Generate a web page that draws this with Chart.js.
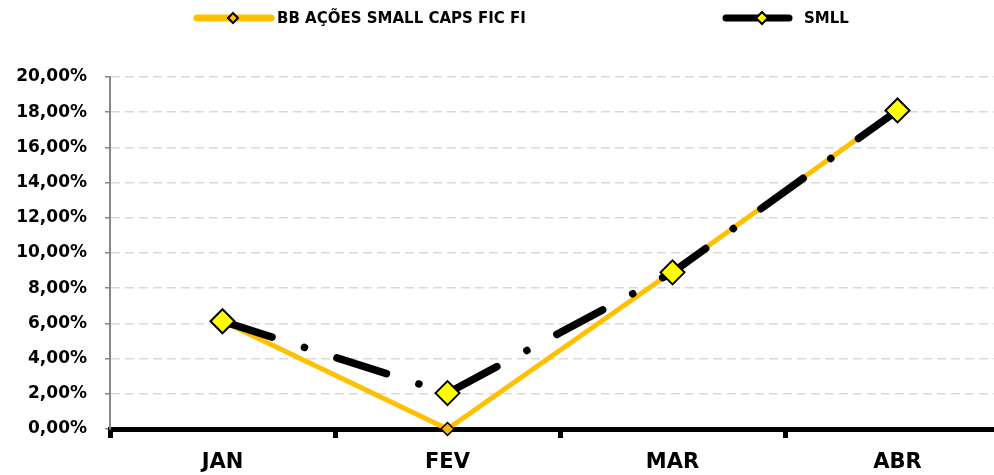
<!DOCTYPE html>
<html lang="pt">
<head>
  <meta charset="UTF-8" />
  <title>BB Ações Small Caps x SMLL</title>
  <script src="https://cdn.jsdelivr.net/npm/chart.js"></script>
  <style>
    html, body { margin: 0; padding: 0; background: #fff; overflow: hidden; }
    .wrap { width: 1010px; height: 475px; }
    #chart { width: 1010px; height: 475px; display: block; }
  </style>
</head>
<body>
  <div class="wrap">
    <canvas id="chart" width="1010" height="475"></canvas>
  </div>

  <script>
    const months = ['JAN', 'FEV', 'MAR', 'ABR'];
    const bbSmallCaps = [6.12, 0.0, 8.95, 18.13];
    const smll = [6.12, 2.04, 8.9, 18.1];
    const seriesNames = ['BB AÇÕES SMALL CAPS FIC FI', 'SMLL'];

    const FONT = "'DejaVu Sans', sans-serif";
    const GOLD = '#FFC000';

    // legend drawn as line + marker sample, like the spreadsheet one
    const lineLegend = {
      id: 'lineLegend',
      afterDraw(chart) {
        const ctx = chart.ctx;
        const items = [
          { x1: 197, x2: 271, mx: 233, color: GOLD, fill: GOLD, r: 5, tx: 277, text: seriesNames[0] },
          { x1: 726, x2: 789, mx: 762, color: '#000', fill: '#FFFF00', r: 6, tx: 804, text: seriesNames[1] }
        ];
        const y = 18;
        ctx.save();
        items.forEach(it => {
          ctx.beginPath();
          ctx.lineCap = 'round';
          ctx.lineWidth = 7;
          ctx.strokeStyle = it.color;
          ctx.moveTo(it.x1, y);
          ctx.lineTo(it.x2, y);
          ctx.stroke();

          ctx.beginPath();
          ctx.moveTo(it.mx, y - it.r);
          ctx.lineTo(it.mx + it.r, y);
          ctx.lineTo(it.mx, y + it.r);
          ctx.lineTo(it.mx - it.r, y);
          ctx.closePath();
          ctx.fillStyle = it.fill;
          ctx.fill();
          ctx.lineWidth = 2;
          ctx.strokeStyle = '#000';
          ctx.stroke();

          ctx.fillStyle = '#000';
          ctx.font = 'bold 15px ' + FONT;
          ctx.textAlign = 'left';
          ctx.textBaseline = 'middle';
          ctx.fillText(it.text, it.tx, y + 1);
        });
        ctx.restore();
      }
    };

    new Chart(document.getElementById('chart'), {
      type: 'line',
      data: {
        labels: months,
        datasets: [
          {
            label: seriesNames[0],
            data: bbSmallCaps,
            borderColor: GOLD,
            borderWidth: 5,
            borderCapStyle: 'round',
            borderJoinStyle: 'round',
            pointStyle: 'rectRot',
            pointRadius: 6.5,
            pointBackgroundColor: '#F2B600',
            pointBorderColor: '#000',
            pointBorderWidth: 1.5,
            tension: 0,
            clip: false,
            order: 1
          },
          {
            label: seriesNames[1],
            data: smll,
            borderColor: '#000',
            borderWidth: 7.5,
            borderDash: [52, 34, 0.1, 34],
            borderCapStyle: 'round',
            borderJoinStyle: 'round',
            pointStyle: 'rectRot',
            pointRadius: 12,
            pointBackgroundColor: '#FFFF00',
            pointBorderColor: '#000',
            pointBorderWidth: 2,
            tension: 0,
            clip: false,
            order: 0
          }
        ]
      },
      options: {
        responsive: false,
        animation: false,
        layout: {
          autoPadding: false,
          padding: { top: 77, right: 0, bottom: 0, left: 0 }
        },
        plugins: {
          legend: { display: false },
          tooltip: { enabled: false }
        },
        scales: {
          x: {
            offset: true,
            afterFit(scale) { scale.height = 46; },
            grid: {
              offset: true,
              drawOnChartArea: false,
              drawTicks: true,
              tickLength: 9,
              tickColor: '#000',
              tickWidth: 5
            },
            border: { color: '#000', width: 5 },
            ticks: {
              color: '#000',
              padding: 12,
              font: { family: FONT, size: 21, weight: 'bold' }
            }
          },
          y: {
            min: 0,
            max: 20,
            afterFit(scale) { scale.width = 110; },
            grid: {
              color: '#D9D9D9',
              lineWidth: 1.5,
              tickLength: 5,
              tickColor: '#868686',
              tickWidth: 1.5,
              tickBorderDash: []
            },
            border: { color: '#868686', width: 2, dash: [9, 5] },
            ticks: {
              stepSize: 2,
              color: '#000',
              padding: 18,
              font: { family: FONT, size: 17, weight: 'bold' },
              callback: v => v.toFixed(2).replace('.', ',') + '%'
            }
          }
        }
      },
      plugins: [lineLegend]
    });
  </script>
</body>
</html>
